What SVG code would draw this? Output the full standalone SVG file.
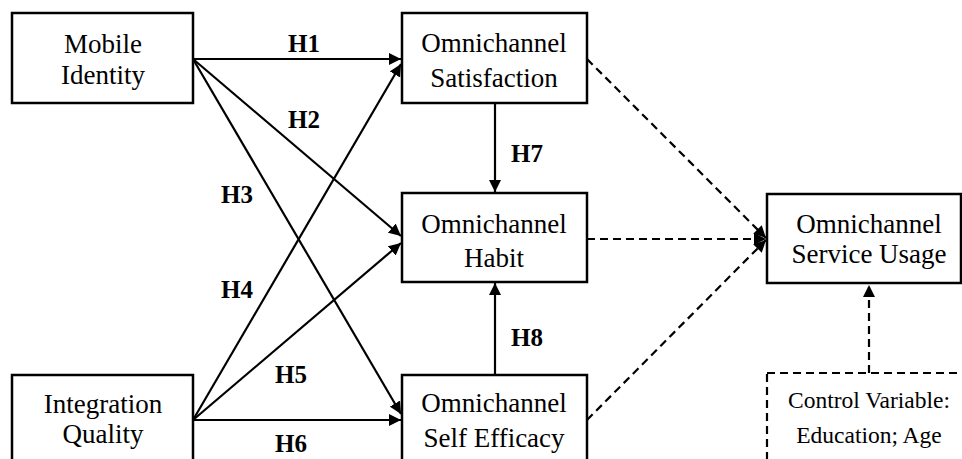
<svg xmlns="http://www.w3.org/2000/svg" width="962" height="459" viewBox="0 0 962 459">
<style>
.box{fill:#fff;stroke:#000;stroke-width:2.5}
.dbox{fill:none;stroke:#000;stroke-width:2.2;stroke-dasharray:8,5}
text{font-family:'Liberation Serif','DejaVu Serif','Times New Roman',serif;text-anchor:middle;fill:#000}
.t{font-size:27px}
.ts{font-size:23.5px}
.h{font-size:25px;font-weight:bold}
.e{fill:none;stroke:#000;stroke-width:2.2}
.d{fill:none;stroke:#000;stroke-width:2.2;stroke-dasharray:8,5}
</style>
<defs>
<marker id="ah" viewBox="0 0 10 10" refX="10" refY="5" markerWidth="5.5" markerHeight="5.5" orient="auto" markerUnits="strokeWidth">
<path d="M0,0 L10,5 L0,10 z" fill="#000"/>
</marker>
</defs>
<rect width="962" height="459" fill="#fff"/>
<g id="connectors">
<line class="e" x1="193" y1="59" x2="401" y2="59" marker-end="url(#ah)"/>
<line class="e" x1="193" y1="59" x2="401" y2="236" marker-end="url(#ah)"/>
<line class="e" x1="193" y1="59" x2="401" y2="414" marker-end="url(#ah)"/>
<line class="e" x1="193" y1="420" x2="401" y2="64" marker-end="url(#ah)"/>
<line class="e" x1="193" y1="420" x2="401" y2="243" marker-end="url(#ah)"/>
<line class="e" x1="193" y1="420" x2="401" y2="420" marker-end="url(#ah)"/>
<line class="e" x1="495" y1="103" x2="495" y2="192" marker-end="url(#ah)"/>
<line class="e" x1="495" y1="375" x2="495" y2="283" marker-end="url(#ah)"/>
<line class="d" x1="587" y1="59" x2="766" y2="238" marker-end="url(#ah)"/>
<line class="d" x1="587" y1="239" x2="766" y2="239" marker-end="url(#ah)"/>
<line class="d" x1="587" y1="420" x2="766" y2="240" marker-end="url(#ah)"/>
<line class="d" x1="869" y1="373" x2="869" y2="285" marker-end="url(#ah)"/>
<text class="h" x="304" y="52">H1</text>
<text class="h" x="304" y="128">H2</text>
<text class="h" x="237" y="203">H3</text>
<text class="h" x="237" y="298">H4</text>
<text class="h" x="291" y="383">H5</text>
<text class="h" x="291" y="452">H6</text>
<text class="h" x="527" y="162">H7</text>
<text class="h" x="527" y="346">H8</text>
</g>
<g id="mobile-identity">
<rect class="box" x="12" y="13" width="181" height="90"/>
<text class="t" x="103" y="53">Mobile</text>
<text class="t" x="103" y="84">Identity</text>
</g>
<g id="integration-quality">
<rect class="box" x="12" y="375" width="181" height="100"/>
<text class="t" x="103" y="413">Integration</text>
<text class="t" x="103" y="443">Quality</text>
</g>
<g id="satisfaction">
<rect class="box" x="402" y="13" width="185" height="90"/>
<text class="t" x="494" y="52">Omnichannel</text>
<text class="t" x="494" y="87">Satisfaction</text>
</g>
<g id="habit">
<rect class="box" x="402" y="193" width="185" height="89"/>
<text class="t" x="494" y="233">Omnichannel</text>
<text class="t" x="494" y="267">Habit</text>
</g>
<g id="self-efficacy">
<rect class="box" x="402" y="375" width="185" height="100"/>
<text class="t" x="494" y="412">Omnichannel</text>
<text class="t" x="494" y="447">Self Efficacy</text>
</g>
<g id="service-usage">
<rect class="box" x="767" y="194" width="194" height="89"/>
<text class="t" x="869" y="233">Omnichannel</text>
<text class="t" x="869" y="263">Service Usage</text>
</g>
<g id="control-variable">
<rect class="dbox" x="767" y="373" width="210" height="100"/>
<text class="ts" x="869" y="408">Control Variable:</text>
<text class="ts" x="869" y="443">Education; Age</text>
</g>
</svg>
